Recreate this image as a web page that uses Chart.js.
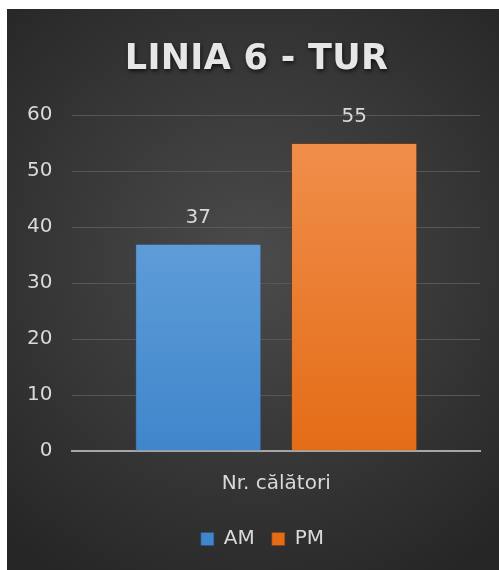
<!DOCTYPE html>
<html>
<head>
<meta charset="utf-8">
<script src="https://cdn.jsdelivr.net/npm/chart.js@4.4.0/dist/chart.umd.js"></script>
<style>
  html, body { margin: 0; padding: 0; background: #fff; }
  #wrap { position: absolute; left: 7px; top: 9px; width: 492px; height: 561px; }
</style>
</head>
<body>
<div id="wrap"><canvas id="chart"></canvas></div>
<script>
const titleText = 'LINIA 6 - TUR';
const categories = ['Nr. călători'];
const seriesNames = ['AM', 'PM'];
const amValues = [37];
const pmValues = [55];
const yMin = 0, yMax = 60, yStep = 10;

const FONT = '"DejaVu Sans", sans-serif';
const TEXT = '#d9d9d9';

// vertical gradient fill per bar colour
function barFill(top, bottom) {
    return (ctx) => {
        const area = ctx.chart.chartArea;
        if (!area) return bottom;
        const g = ctx.chart.ctx.createLinearGradient(0, area.top, 0, area.bottom);
        g.addColorStop(0, top);
        g.addColorStop(1, bottom);
        return g;
    };
}

const bgPlugin = {
    id: 'bg',
    beforeDraw(chart) {
        const { ctx, width, height } = chart;
        const g = ctx.createRadialGradient(width * 0.5, height * 0.45, 10, width * 0.5, height * 0.45, width * 0.75);
        g.addColorStop(0, '#4a4a4a');
        g.addColorStop(1, '#262626');
        ctx.save();
        ctx.fillStyle = g;
        ctx.fillRect(0, 0, width, height);
        ctx.restore();
    },
};

// wrap a box's draw so it can be nudged sideways (and styled)
function nudge(chart, box, dx, style) {
    if (!box) return;
    const orig = box.draw.bind(box);
    box.draw = function () {
        const ctx = chart.ctx;
        ctx.save();
        ctx.translate(dx, 0);
        if (style) style(ctx);
        orig();
        ctx.restore();
    };
}

const boxStyle = {
    id: 'boxStyle',
    afterInit(chart) {
        nudge(chart, chart.titleBlock, 13, (ctx) => {
            ctx.letterSpacing = '0.3px';
            ctx.shadowColor = 'rgba(0,0,0,0.7)';
            ctx.shadowBlur = 4;
            ctx.shadowOffsetX = 1;
            ctx.shadowOffsetY = 2;
        });
        nudge(chart, chart.legend, 19);
    },
};

const valueLabels = {
    id: 'valueLabels',
    afterDatasetsDraw(chart) {
        const ctx = chart.ctx;
        ctx.save();
        ctx.font = '20px ' + FONT;
        ctx.fillStyle = TEXT;
        ctx.textAlign = 'center';
        ctx.textBaseline = 'middle';
        chart.data.datasets.forEach((ds, i) => {
            chart.getDatasetMeta(i).data.forEach((bar, j) => {
                ctx.fillText(String(ds.data[j]), bar.x, bar.y - 26);
            });
        });
        ctx.restore();
    },
};

new Chart(document.getElementById('chart'), {
    type: 'bar',
    data: {
        labels: categories,
        datasets: [
            {
                label: seriesNames[0], data: amValues,
                backgroundColor: barFill('#72aae0', '#3f86cb'),
                borderColor: 'rgba(40,80,130,0.6)', borderWidth: 1,
            },
            {
                label: seriesNames[1], data: pmValues,
                backgroundColor: barFill('#f1914f', '#e46c17'),
                borderColor: 'rgba(130,60,10,0.6)', borderWidth: 1,
            },
        ],
    },
    options: {
        responsive: true, maintainAspectRatio: false, animation: false,
        categoryPercentage: 0.765, barPercentage: 0.81,
        layout: { padding: { left: 0, right: 19, top: 0, bottom: 11 } },
        plugins: {
            title: {
                display: true, text: titleText, color: '#e6e6e6',
                font: { family: FONT, size: 35, weight: 'bold' },
                padding: { top: 30, bottom: 34 },
            },
            legend: {
                position: 'bottom',
                labels: {
                    color: TEXT, font: { family: FONT, size: 20 },
                    boxWidth: 13, boxHeight: 13, padding: 17,
                },
            },
            tooltip: { enabled: false },
        },
        scales: {
            x: {
                grid: { display: false },
                border: { color: '#a6a6a6', width: 2 },
                ticks: { color: TEXT, font: { family: FONT, size: 20 }, padding: 13 },
                afterFit: (scale) => { scale.height += 3; },
            },
            y: {
                min: yMin, max: yMax,
                grid: { color: '#575757', drawTicks: false, lineWidth: 1 },
                border: { display: false },
                ticks: { stepSize: yStep, color: TEXT, font: { family: FONT, size: 20 }, padding: 20 },
            },
        },
    },
    plugins: [bgPlugin, boxStyle, valueLabels],
});
</script>
</body>
</html>
